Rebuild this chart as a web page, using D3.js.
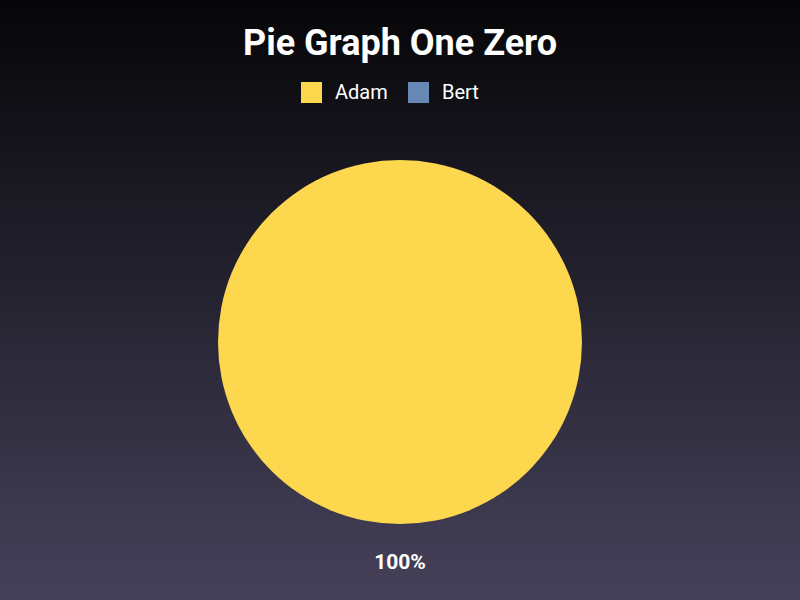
<!DOCTYPE html>
<html>
<head>
<meta charset="utf-8">
<script src="https://cdn.jsdelivr.net/npm/d3@7"></script>
<style>
  body { margin: 0; }
  svg { display: block; font-family: Roboto, sans-serif; }
</style>
</head>
<body>
<script>
// chart data
var names = ["Adam", "Bert"];
var values = [1, 0];
var colors = ["#fdd84f", "#6788b5"];
var title = "Pie Graph One Zero";

var width = 800, height = 600;
var cx = 400, cy = 342, radius = 182;

var svg = d3.select("body")
  .append("svg")
  .attr("width", width)
  .attr("height", height);

// background gradient
var grad = svg.append("defs")
  .append("linearGradient")
  .attr("id", "bg")
  .attr("x1", 0).attr("y1", 0)
  .attr("x2", 0).attr("y2", 1);
grad.append("stop").attr("offset", "0%").attr("stop-color", "#060608");
grad.append("stop").attr("offset", "100%").attr("stop-color", "#46415a");

svg.append("rect")
  .attr("width", width)
  .attr("height", height)
  .attr("fill", "url(#bg)");

// title
svg.append("text")
  .attr("x", width / 2)
  .attr("y", 55)
  .attr("text-anchor", "middle")
  .attr("fill", "#ffffff")
  .style("font-size", "36px")
  .style("font-weight", "bold")
  .text(title);

// legend
var legendX = [301, 408];
var legend = svg.selectAll(".legend")
  .data(names)
  .enter()
  .append("g")
  .attr("class", "legend")
  .attr("transform", (d, i) => "translate(" + legendX[i] + ",82)");
legend.append("rect")
  .attr("width", 21)
  .attr("height", 21)
  .attr("fill", (d, i) => colors[i]);
legend.append("text")
  .attr("x", 34)
  .attr("y", 17)
  .attr("fill", "#ffffff")
  .style("font-size", "20px")
  .text(d => d);

// pie
var color = d3.scaleOrdinal().domain(names).range(colors);
var pie = d3.pie().sort(null).value(d => d.value);
var slices = pie(names.map((n, i) => ({ name: n, value: values[i] })));
var total = d3.sum(values);

var arc = d3.arc().innerRadius(0).outerRadius(radius);
var labelArc = d3.arc().innerRadius(220).outerRadius(220);

var g = svg.append("g")
  .attr("transform", "translate(" + cx + "," + cy + ")");

g.selectAll("path")
  .data(slices.filter(d => d.value > 0))
  .enter()
  .append("path")
  .attr("d", arc)
  .attr("fill", d => color(d.data.name));

g.selectAll(".lbl")
  .data(slices.filter(d => d.value > 0))
  .enter()
  .append("text")
  .attr("class", "lbl")
  .attr("transform", d => "translate(" + labelArc.centroid(d) + ")")
  .attr("text-anchor", "middle")
  .attr("dy", "0.35em")
  .attr("fill", "#ffffff")
  .style("font-size", "21px")
  .style("font-weight", "bold")
  .text(d => Math.round(d.value / total * 100) + "%");
</script>
</body>
</html>
